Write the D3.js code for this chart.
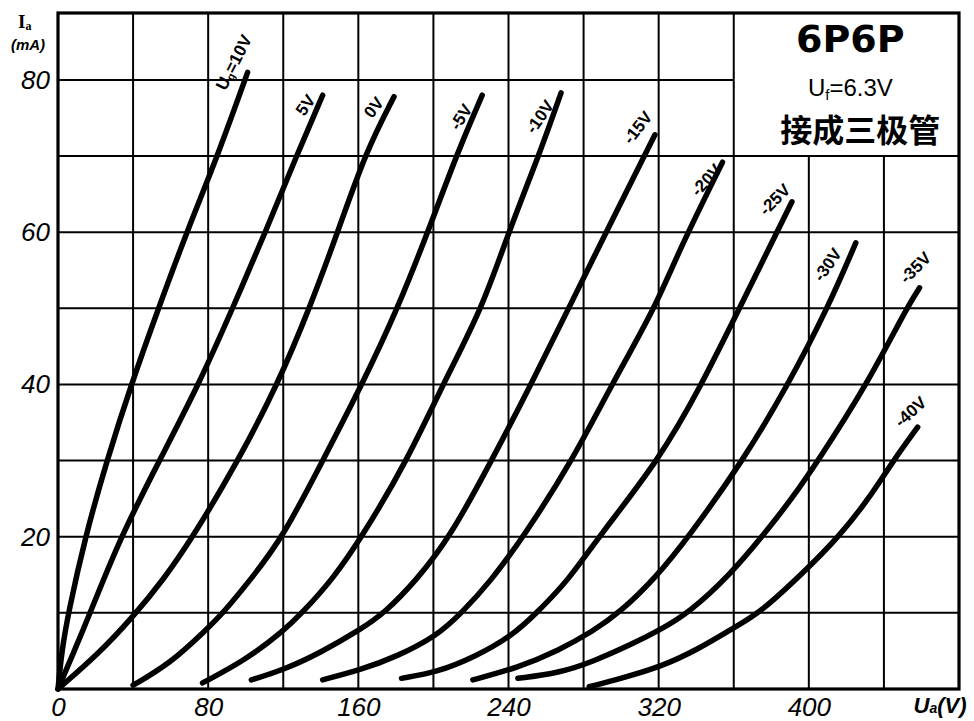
<!DOCTYPE html>
<html><head><meta charset="utf-8">
<script src="https://cdn.jsdelivr.net/npm/d3@7"></script>
<style>body{margin:0;background:#fff}</style>
</head><body><svg id="c" width="974" height="721"></svg>
<script>
// ---- data ----
const xTicks = [0, 80, 160, 240, 320, 400];
const yTicks = [20, 40, 60, 80];
const xGridVals = [0, 40, 80, 120, 160, 200, 240, 280, 320, 360, 400, 440, 480];
const yGridVals = [0, 10, 20, 30, 40, 50, 60, 70, 80];
const biasLabels = ["=10V", "5V", "0V", "-5V", "-10V", "-15V", "-20V", "-25V", "-30V", "-35V", "-40V"];
const curve_p10 = [[0,0],[2,5],[5.5,10],[14.5,20],[26,30],[39,40],[53.5,50],[69,60.3],[85,70],[101,81]];
const curve_p5  = [[0,0],[8,4.6],[17,9.9],[33,19.8],[54,30],[75,40],[93,50],[111,60.3],[127,70],[141,78]];
const curve_0   = [[0,0],[22,4.7],[40,9.5],[56,14.3],[72,20],[96,30],[117,40],[134,50],[149,60],[164,70.6],[179,77.8]];
const curve_m5  = [[40,0.5],[60,3.4],[79,7.8],[88,10],[103,14.5],[120,20],[141,30],[162,40],[181,50],[197,60],[213,70.6],[226,78]];
const curve_m10 = [[77,0.8],[100,3.8],[121,7.8],[130,10],[146,14.3],[162,20],[186,30],[205,40],[226,50],[240,60],[257,70.6],[268,78.3]];
const curve_m15 = [[103,1.2],[121,2.6],[140,4.8],[161,7.8],[174,10],[191,14.3],[209,20],[231,30],[252,40],[272,50],[292,60],[318,72.8]];
const curve_m20 = [[141,1.2],[161,2.5],[180,4.2],[202,7],[215,10],[230,14],[248,20],[274,30],[295,40],[318,50],[331,57.7],[354,69.2]];
const curve_m25 = [[183,1.4],[202,2.2],[222,4.2],[242,7],[255,10],[272,14.3],[288,20],[320,30],[343,40],[363,50],[391,64]];
const curve_m30 = [[221,1.2],[245,2.8],[267,5.1],[285,7.6],[299,10],[318,14.5],[336,20],[365,30],[389,40],[410,50],[425,58.6]];
const curve_m35 = [[245,1.4],[267,2.1],[285,3.6],[305,5.8],[321,7.8],[336,10],[358,15],[375,20],[391,25],[405,30],[431,40],[452,50],[459,52.7]];
const curve_m40 = [[283,0.3],[300,1.4],[321,2.9],[341,5.2],[361,8.2],[374,10],[398,15.5],[416,20],[432,25],[445,30],[458,34.4]];
const curves = [curve_p10, curve_p5, curve_0, curve_m5, curve_m10, curve_m15, curve_m20, curve_m25, curve_m30, curve_m35, curve_m40];

// ---- layout / style ----
const labelOffsets = [[-14,-10],[-17,10],[-20,11],[-21,22],[-21,24],[-17,-7],[-16,18],[-17,-2],[-28,22],[-4,-20],[-7,-15]];
const labelAngles = [-63,-55,-52,-58,-55,-52,-48,-45,-55,-45,-42];

const svg = d3.select("#c");
const x = d3.scaleLinear().domain([0, 480]).range([58, 959]);
const y = d3.scaleLinear().domain([0, 88.8]).range([689, 13]);
const boxV = 360, boxI = 70;

const g = svg.append("g");
// grid
g.selectAll(".vg").data(xGridVals.filter(v => v > 0 && v < 480)).join("line")
  .attr("x1", d => x(d)).attr("x2", d => x(d))
  .attr("y1", y(0)).attr("y2", d => d > boxV ? y(boxI) : y(88.8))
  .attr("stroke", "#000").attr("stroke-width", 2);
g.selectAll(".hg").data(yGridVals.filter(v => v > 0)).join("line")
  .attr("y1", d => y(d)).attr("y2", d => y(d))
  .attr("x1", x(0)).attr("x2", d => d > boxI ? x(boxV) : x(480))
  .attr("stroke", "#000").attr("stroke-width", 2);
// frame
g.append("rect").attr("x", x(0)).attr("y", y(88.8))
  .attr("width", x(480) - x(0)).attr("height", y(0) - y(88.8))
  .attr("fill", "none").attr("stroke", "#000").attr("stroke-width", 3.2);

// curves
const line = d3.line().x(d => x(d[0])).y(d => y(d[1])).curve(d3.curveBasis);
g.selectAll(".crv").data(curves).join("path")
  .attr("d", line).attr("fill", "none").attr("stroke", "#000")
  .attr("stroke-width", 5.5).attr("stroke-linecap", "round").attr("stroke-linejoin", "round");

// curve labels
const font = "'Liberation Sans', 'DejaVu Sans', sans-serif";
curves.forEach((c, i) => {
  const e = c[c.length - 1];
  const px = x(e[0]) + labelOffsets[i][0], py = y(e[1]) + labelOffsets[i][1];
  const t = g.append("text")
    .attr("transform", `translate(${px},${py}) rotate(${labelAngles[i]})`)
    .attr("text-anchor", "middle").attr("dominant-baseline", "central")
    .attr("font-family", font).attr("font-size", 17).attr("font-weight", "bold").attr("fill", "#000");
  if (i === 0) {
    t.append("tspan").text("U");
    t.append("tspan").attr("font-size", 11).attr("dy", 4).text("g");
    t.append("tspan").attr("dy", -4).text(biasLabels[i]);
  } else t.text(biasLabels[i]);
});

// axes
const ax = g.append("g").attr("transform", `translate(0,${y(0)})`)
  .call(d3.axisBottom(x).tickValues(xTicks).tickSize(0).tickPadding(9).tickFormat(d3.format("d")));
ax.select(".domain").remove();
ax.selectAll("text").attr("font-family", font).attr("font-style", "italic").attr("font-size", 26).attr("fill", "#000");
const ay = g.append("g").attr("transform", `translate(${x(0)},0)`)
  .call(d3.axisLeft(y).tickValues(yTicks).tickSize(0).tickPadding(8).tickFormat(d3.format("d")));
ay.select(".domain").remove();
ay.selectAll("text").attr("font-family", font).attr("font-style", "italic").attr("font-size", 26).attr("fill", "#000");

// axis titles
const ia = g.append("text").attr("x", 18).attr("y", 28).attr("font-family", "'Liberation Serif', serif")
  .attr("font-weight", "bold").attr("font-size", 19).attr("fill", "#000");
ia.append("tspan").text("I");
ia.append("tspan").attr("font-size", 12).attr("dy", 2).text("a");
g.append("text").attr("x", 28).attr("y", 50).attr("text-anchor", "middle").attr("font-family", font)
  .attr("font-weight", "bold").attr("font-style", "italic").attr("font-size", 15).attr("fill", "#000").text("(mA)");
const ua = g.append("text").attr("x", 940).attr("y", 713).attr("text-anchor", "middle").attr("font-family", font)
  .attr("font-weight", "bold").attr("font-style", "italic").attr("font-size", 22).attr("fill", "#000");
ua.append("tspan").text("U");
ua.append("tspan").attr("font-size", 14).text("a");
ua.append("tspan").text("(V)");

// title box
const cx = (x(boxV) + x(480)) / 2 + 4;
g.append("text").attr("x", cx).attr("y", 52).attr("text-anchor", "middle")
  .attr("font-family", "'DejaVu Sans', sans-serif").attr("font-weight", "bold").attr("font-size", 38)
  .attr("fill", "#000").text("6P6P");
const uf = g.append("text").attr("x", cx).attr("y", 96).attr("text-anchor", "middle")
  .attr("font-family", font).attr("font-size", 24).attr("fill", "#000");
uf.append("tspan").text("U");
uf.append("tspan").attr("font-size", 15).attr("dy", 4).text("f");
uf.append("tspan").attr("dy", -4).text("=6.3V");
g.append("text").attr("x", cx + 10).attr("y", 142).attr("text-anchor", "middle")
  .attr("font-family", "'Noto Sans CJK SC', sans-serif").attr("font-weight", "bold").attr("font-size", 32)
  .attr("fill", "#000").text("接成三极管");
</script></body></html>
